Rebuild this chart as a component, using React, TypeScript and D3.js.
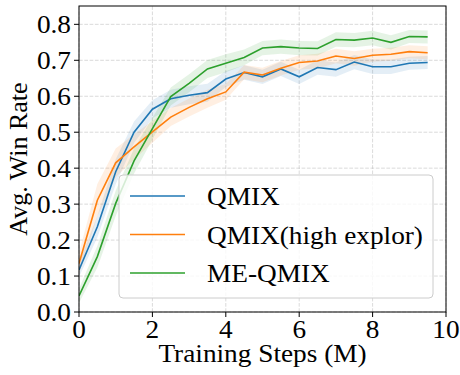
import React from 'react';
import * as d3 from 'd3';

// training steps (M)
const steps = [0, 0.5, 1, 1.5, 2, 2.5, 3, 3.5, 4, 4.5, 5, 5.5, 6, 6.5, 7, 7.5, 8, 8.5, 9, 9.5];

const qmixMean = [0.117, 0.237, 0.39, 0.5, 0.564, 0.593, 0.603, 0.61, 0.648, 0.666, 0.654, 0.676, 0.654, 0.68, 0.674, 0.695, 0.682, 0.682, 0.692, 0.694];
const qmixStd = [0.02, 0.03, 0.035, 0.03, 0.025, 0.025, 0.025, 0.025, 0.022, 0.02, 0.02, 0.02, 0.02, 0.02, 0.02, 0.02, 0.02, 0.02, 0.018, 0.018];

const highMean = [0.135, 0.311, 0.415, 0.459, 0.501, 0.542, 0.569, 0.593, 0.612, 0.667, 0.659, 0.678, 0.694, 0.698, 0.712, 0.705, 0.714, 0.717, 0.724, 0.721];
const highStd = [0.03, 0.045, 0.04, 0.035, 0.03, 0.025, 0.025, 0.025, 0.022, 0.02, 0.02, 0.02, 0.02, 0.02, 0.02, 0.02, 0.018, 0.018, 0.018, 0.018];

const meMean = [0.045, 0.154, 0.302, 0.42, 0.51, 0.599, 0.636, 0.676, 0.692, 0.708, 0.734, 0.738, 0.734, 0.733, 0.758, 0.756, 0.762, 0.75, 0.766, 0.765];
const meStd = [0.02, 0.03, 0.035, 0.035, 0.03, 0.025, 0.025, 0.025, 0.025, 0.022, 0.02, 0.02, 0.02, 0.02, 0.02, 0.02, 0.02, 0.02, 0.018, 0.018];

const seriesNames = ['QMIX', 'QMIX(high explor)', 'ME-QMIX'];
const seriesColors = ['#1f77b4', '#ff7f0e', '#2ca02c'];

const xTicks = [0, 2, 4, 6, 8, 10];
const yTicks = [0, 0.1, 0.2, 0.3, 0.4, 0.5, 0.6, 0.7, 0.8];

const W = 460;
const H = 375;
const margin = { left: 79, right: 14, top: 6, bottom: 63 };
const FONT = '"Liberation Serif", "Times New Roman", serif';
const FS = 26;
const SX = 1.05; // reference text is a bit wide

// text with a slight horizontal stretch
function T(props: { x: number; y: number; anchor?: string; size?: number; children: React.ReactNode }) {
  const { x, y, anchor = 'start', size = FS, children } = props;
  return (
    <text transform={`translate(${x},${y}) scale(${SX},1)`} textAnchor={anchor} fontSize={size}>{children}</text>
  );
}

export default function App() {
  const x = d3.scaleLinear().domain([0, 10]).range([margin.left, W - margin.right]);
  const y = d3.scaleLinear().domain([0, 0.851]).range([H - margin.bottom, margin.top]);

  const series = [
    { name: seriesNames[0], color: seriesColors[0], mean: qmixMean, std: qmixStd },
    { name: seriesNames[1], color: seriesColors[1], mean: highMean, std: highStd },
    { name: seriesNames[2], color: seriesColors[2], mean: meMean, std: meStd },
  ];

  const line = d3.line<number>()
    .x((_, i) => x(steps[i]))
    .y(d => y(d));

  const area = (s: typeof series[0]) =>
    d3.area<number>()
      .x((_, i) => x(steps[i]))
      .y0((d, i) => y(d - s.std[i]))
      .y1((d, i) => y(d + s.std[i]))(s.mean) || '';

  const x0 = margin.left;
  const x1 = W - margin.right;
  const y0 = H - margin.bottom;
  const y1 = margin.top;

  // legend box
  const lg = { x: 119, y: 175, w: 314, h: 123 };

  return (
    <svg width={W} height={H} style={{ position: 'absolute', left: 0, top: 0, background: '#fff' }} fontFamily={FONT}>
      <defs>
        <clipPath id="plot">
          <rect x={x0} y={y1} width={x1 - x0} height={y0 - y1} />
        </clipPath>
      </defs>

      {/* grid */}
      {xTicks.map(t => (
        <line key={'gx' + t} x1={x(t)} x2={x(t)} y1={y0} y2={y1} stroke="#b0b0b0" strokeOpacity={0.6} strokeDasharray="3.7,1.6" strokeWidth={0.8} />
      ))}
      {yTicks.map(t => (
        <line key={'gy' + t} x1={x0} x2={x1} y1={y(t)} y2={y(t)} stroke="#b0b0b0" strokeOpacity={0.6} strokeDasharray="3.7,1.6" strokeWidth={0.8} />
      ))}

      <g clipPath="url(#plot)">
        {series.map(s => (
          <path key={'a' + s.name} d={area(s)} fill={s.color} fillOpacity={0.12} stroke="none" />
        ))}
        {series.map(s => (
          <path key={'l' + s.name} d={line(s.mean) || ''} fill="none" stroke={s.color} strokeWidth={1.6} />
        ))}
      </g>

      {/* frame */}
      <rect x={x0} y={y1} width={x1 - x0} height={y0 - y1} fill="none" stroke="#000" strokeWidth={1} />

      {/* x ticks */}
      {xTicks.map(t => (
        <g key={'xt' + t}>
          <line x1={x(t)} x2={x(t)} y1={y0} y2={y0 + 5} stroke="#000" />
          <T x={x(t)} y={y0 + 26} anchor="middle">{t}</T>
        </g>
      ))}
      {/* y ticks */}
      {yTicks.map(t => (
        <g key={'yt' + t}>
          <line x1={x0 - 5} x2={x0} y1={y(t)} y2={y(t)} stroke="#000" />
          <T x={x0 - 8} y={y(t) + 9} anchor="end">{t.toFixed(1)}</T>
        </g>
      ))}

      <T x={(x0 + x1) / 2} y={362} anchor="middle">Training Steps (M)</T>
      <text transform={`translate(27, ${(y0 + y1) / 2}) rotate(-90)`} textAnchor="middle" fontSize={FS}>Avg. Win Rate</text>

      {/* legend */}
      <rect x={lg.x} y={lg.y} width={lg.w} height={lg.h} rx={4} fill="#fff" fillOpacity={0.8} stroke="#cccccc" strokeWidth={1} />
      {series.map((s, i) => {
        const ry = 196 + i * 38.5;
        return (
          <g key={'lg' + s.name}>
            <line x1={130} x2={185} y1={ry} y2={ry} stroke={s.color} strokeWidth={1.6} />
            <T x={207} y={ry + 9}>{s.name}</T>
          </g>
        );
      })}
    </svg>
  );
}
